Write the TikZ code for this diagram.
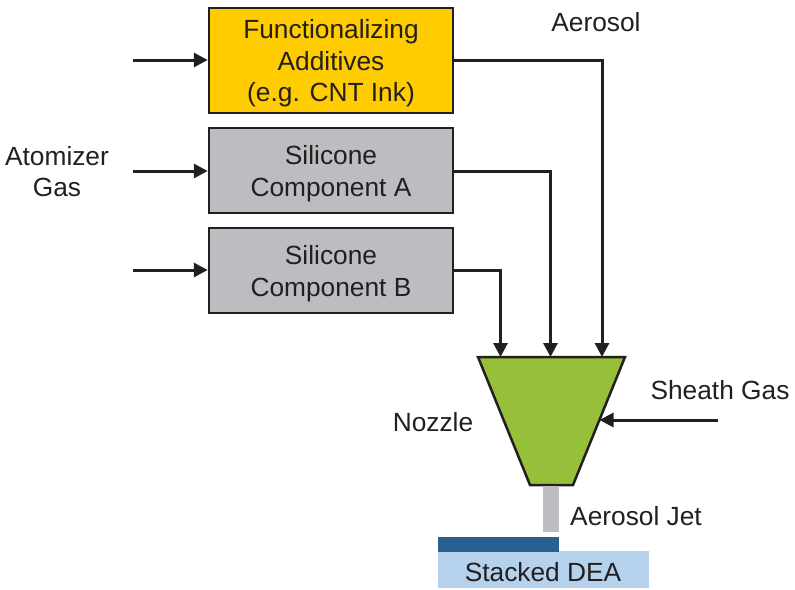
\documentclass[tikz,border=0pt]{standalone}
\usepackage{fontspec}
\setmainfont{Liberation Sans}
\usetikzlibrary{arrows.meta}
\definecolor{txt}{HTML}{231F20}
\definecolor{boxyellow}{HTML}{FFCC00}
\definecolor{boxgray}{HTML}{BCBDC0}
\definecolor{nozgreen}{HTML}{96C03A}
\definecolor{jetgray}{HTML}{BCBDC0}
\definecolor{deadark}{HTML}{2A6090}
\definecolor{dealight}{HTML}{B4D2EC}
\begin{document}
\begin{tikzpicture}[x=1pt,y=-1pt,
  every node/.style={text=txt,font=\fontsize{26.3}{31.5}\selectfont,inner sep=0pt},
  procbox/.style={draw=txt,line width=2.5pt,minimum width=244pt},
  flow/.style={draw=txt,line width=3pt,-{Triangle[length=14pt,width=14pt]}},
  lbl/.style={align=center}]
\useasboundingbox (0,0) rectangle (795,589);
% boxes
\node[procbox,fill=boxyellow,minimum height=105pt] (fa) at (331,60.5) {};
\node[procbox,fill=boxgray,minimum height=85pt] (sa) at (331,170.5) {};
\node[procbox,fill=boxgray,minimum height=85pt] (sb) at (331,270.5) {};
\node[lbl] (fat) at ([yshift=-3pt]fa.center) {Functionalizing\\Additives\\(e.g. CNT Ink)};
\node[lbl] (sat) at ([yshift=-3pt]sa.center) {Silicone\\Component A};
\node[lbl] (sbt) at ([yshift=-3pt]sb.center) {Silicone\\Component B};
% nozzle
\coordinate (ntl) at (478,357);
\coordinate (ntr) at (625,357);
\coordinate (nbr) at (573,485);
\coordinate (nbl) at (530,485);
\draw[fill=nozgreen,draw=txt,line width=2.5pt,line join=miter] (ntl) -- (ntr) -- (nbr) -- (nbl) -- cycle;
\coordinate (inB) at (500.5,357);
\coordinate (inA) at (550.5,357);
\coordinate (inF) at (602,357);
\coordinate (sheathIn) at (599.5,420);
% input free ends
\coordinate (srcF) at (133,60);
\coordinate (srcA) at (133,171);
\coordinate (srcB) at (133,270);
\coordinate (srcS) at (718,420);
\draw[flow] (srcF) -- (fa.west |- srcF);
\draw[flow] (srcA) -- (sa.west |- srcA);
\draw[flow] (srcB) -- (sb.west |- srcB);
\draw[flow] (fa.east |- srcF) -| (inF);
\draw[flow] (sa.east |- srcA) -| (inA);
\draw[flow] (sb.east |- srcB) -| (inB);
\draw[flow] (srcS) -- (sheathIn);
% jet and substrate
\fill[jetgray] (543,486) rectangle (559,532);
\fill[dealight] (438,551) rectangle (649,588);
\fill[deadark] (438,537) rectangle (559,552);
% labels
\node[lbl] (aerosol) at (596,22) {Aerosol};
\node[lbl] (atom) at (57,171.5) {Atomizer\\Gas};
\node[lbl] (sheath) at (720,390) {Sheath Gas};
\node[lbl] (nozzle) at (433,422) {Nozzle};
\node[lbl] (jet) at (636,516) {Aerosol Jet};
\node[lbl] (dea) at (543,572) {Stacked DEA};
\end{tikzpicture}
\end{document}
